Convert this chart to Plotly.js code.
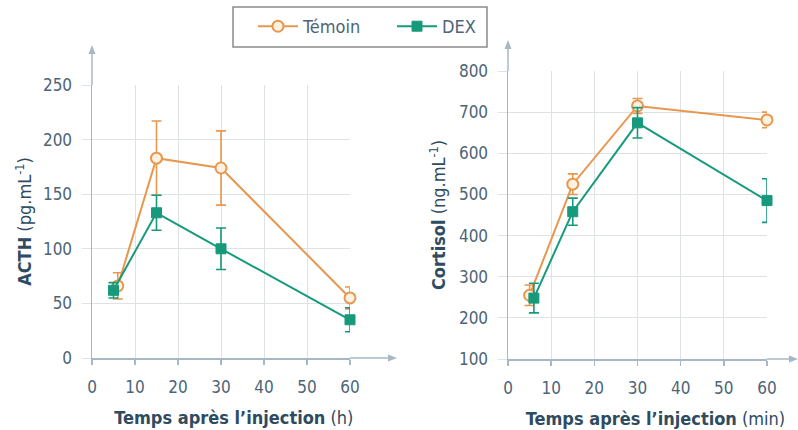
<!DOCTYPE html>
<html><head><meta charset="utf-8">
<script src="https://cdn.plot.ly/plotly-3.0.1.min.js"></script>
<style>html,body{margin:0;padding:0;background:#fff}</style>
</head><body><div id="chart" style="width:798px;height:430px"></div>
<script>
// ---- Data ----
const seriesNames = ["Témoin", "DEX"];
const xTicks = [0, 10, 20, 30, 40, 50, 60];
const acthTicks = [0, 50, 100, 150, 200, 250];
const cortisolTicks = [100, 200, 300, 400, 500, 600, 700, 800];

const acthTemoinX = [6, 15, 30, 60];
const acthTemoinY = [66, 183, 174, 55];
const acthTemoinErr = [12, 34, 34, 10];

const acthDexX = [5, 15, 30, 60];
const acthDexY = [62, 133, 100, 35];
const acthDexErr = [7, 16, 19, 11];

const cortTemoinX = [5, 15, 30, 60];
const cortTemoinY = [255, 525, 715, 681];
const cortTemoinErr = [25, 25, 18, 19];

const cortDexX = [6, 15, 30, 60];
const cortDexY = [248, 458, 674, 485];
const cortDexErr = [36, 33, 37, 53];

// ---- Styles ----
const W = 798, H = 430;
const ORANGE = '#e8974f', GREEN = '#169a7b';
const AXIS = '#a7b8c4', GRID = '#dde2e5';
const TICKC = '#4d6477', TITLEC = '#2f4b60';
const FONT = '"Liberation Sans Narrow", "DejaVu Sans Condensed", "Open Sans", sans-serif';
const px = v => v / W, py = v => 1 - v / H;

function trace(x, y, err, name, color, xa, ya, legend, symbol) {
  return {
    type: 'scatter', mode: 'lines+markers', x: x, y: y, name: name,
    xaxis: xa, yaxis: ya, showlegend: legend, legendgroup: name, cliponaxis: false,
    line: {color: color, width: 2},
    marker: symbol === 'circle'
      ? {symbol: 'circle', size: 11, color: '#fdf1e2', line: {color: color, width: 2}}
      : {symbol: 'square', size: 10, color: color, line: {color: color, width: 1}},
    error_y: {type: 'data', array: err, visible: true, color: color, thickness: 1.6, width: 5}
  };
}

const data = [
  trace(acthTemoinX, acthTemoinY, acthTemoinErr, seriesNames[0], ORANGE, 'x', 'y', true, 'circle'),
  trace(acthDexX, acthDexY, acthDexErr, seriesNames[1], GREEN, 'x', 'y', true, 'square'),
  trace(cortTemoinX, cortTemoinY, cortTemoinErr, seriesNames[0], ORANGE, 'x2', 'y2', false, 'circle'),
  trace(cortDexX, cortDexY, cortDexErr, seriesNames[1], GREEN, 'x2', 'y2', false, 'square')
];

const titleFont = {family: FONT, size: 18, color: TITLEC};

function xAxis(domain, anchor, title) {
  return {
    domain: domain, anchor: anchor, range: [0, 60], tickvals: xTicks, ticktext: xTicks.map(String),
    showgrid: true, gridcolor: GRID, gridwidth: 1, zeroline: false,
    showline: true, linecolor: AXIS, linewidth: 1.5,
    ticks: 'outside', ticklen: 5, tickcolor: AXIS, tickwidth: 1.5, ticklabelstandoff: 8,
    tickfont: {family: FONT, size: 17, color: TICKC}, fixedrange: true,
    title: {text: title, font: titleFont, standoff: 15}
  };
}
function yAxis(domain, anchor, range, ticks, title, standoff) {
  return {
    domain: domain, anchor: anchor, range: range, tickvals: ticks,
    showgrid: true, gridcolor: GRID, gridwidth: 1, zeroline: false,
    showline: true, linecolor: AXIS, linewidth: 1.5,
    ticks: 'outside', ticklen: 9, tickcolor: GRID, tickwidth: 1, ticklabelstandoff: 6,
    tickfont: {family: FONT, size: 17, color: TICKC}, fixedrange: true,
    title: {text: title, font: titleFont, standoff: standoff}
  };
}

// axis arrows drawn as paper-referenced shapes (pixel positions converted)
function pathOf(pts) {
  return 'M ' + pts.map(p => px(p[0]) + ' ' + py(p[1])).join(' L ') + ' Z';
}
function hArrow(x0, x1, y) {
  return [
    {type: 'line', xref: 'paper', yref: 'paper', x0: px(x0), x1: px(x1 - 6), y0: py(y), y1: py(y),
      line: {color: AXIS, width: 1.5}},
    {type: 'path', xref: 'paper', yref: 'paper', path: pathOf([[x1, y], [x1 - 9, y - 3.5], [x1 - 9, y + 3.5]]),
      fillcolor: AXIS, line: {width: 0}}
  ];
}
function vArrow(x, y0, y1) {
  return [
    {type: 'line', xref: 'paper', yref: 'paper', x0: px(x), x1: px(x), y0: py(y0), y1: py(y1 + 6),
      line: {color: AXIS, width: 1.5}},
    {type: 'path', xref: 'paper', yref: 'paper', path: pathOf([[x, y1], [x - 3.5, y1 + 9], [x + 3.5, y1 + 9]]),
      fillcolor: AXIS, line: {width: 0}}
  ];
}

const layout = {
  width: W, height: H, margin: {l: 0, r: 0, t: 0, b: 0},
  paper_bgcolor: '#fff', plot_bgcolor: '#fff',
  font: {family: FONT, color: TICKC},
  xaxis: xAxis([px(92), px(350)], 'y', '&nbsp;&nbsp;&nbsp;&nbsp;&nbsp;<b>Temps après l’injection</b> (h)'),
  yaxis: yAxis([py(358), py(85)], 'x', [0, 250], acthTicks, '<b>ACTH</b> (pg.mL<sup>-1</sup>)', 6),
  xaxis2: xAxis([px(508), px(767)], 'y2', '&nbsp;&nbsp;&nbsp;&nbsp;&nbsp;&nbsp;&nbsp;<b>Temps après l’injection</b> (min)'),
  yaxis2: yAxis([py(359), py(71)], 'x2', [100, 800], cortisolTicks, '<b>Cortisol</b> (ng.mL<sup>-1</sup>)', 8),
  showlegend: true,
  legend: {orientation: 'h', x: px(253), y: py(8), xanchor: 'left', yanchor: 'top',
    borderwidth: 0, bgcolor: 'rgba(0,0,0,0)',
    font: {family: FONT, size: 18, color: TICKC}, itemwidth: 40,
    entrywidth: 84, entrywidthmode: 'pixels'},
  shapes: [
    {type: 'rect', xref: 'paper', yref: 'paper', x0: px(233), x1: px(487), y0: py(7), y1: py(47),
      line: {color: '#8a8a8a', width: 1.5}, fillcolor: 'rgba(0,0,0,0)', layer: 'below'},
    ...hArrow(350, 397, 358),
    ...vArrow(92, 85, 45),
    ...hArrow(767, 798, 359),
    ...vArrow(508, 71, 40)
  ]
};

Plotly.newPlot('chart', data, layout, {staticPlot: true});
</script></body></html>
